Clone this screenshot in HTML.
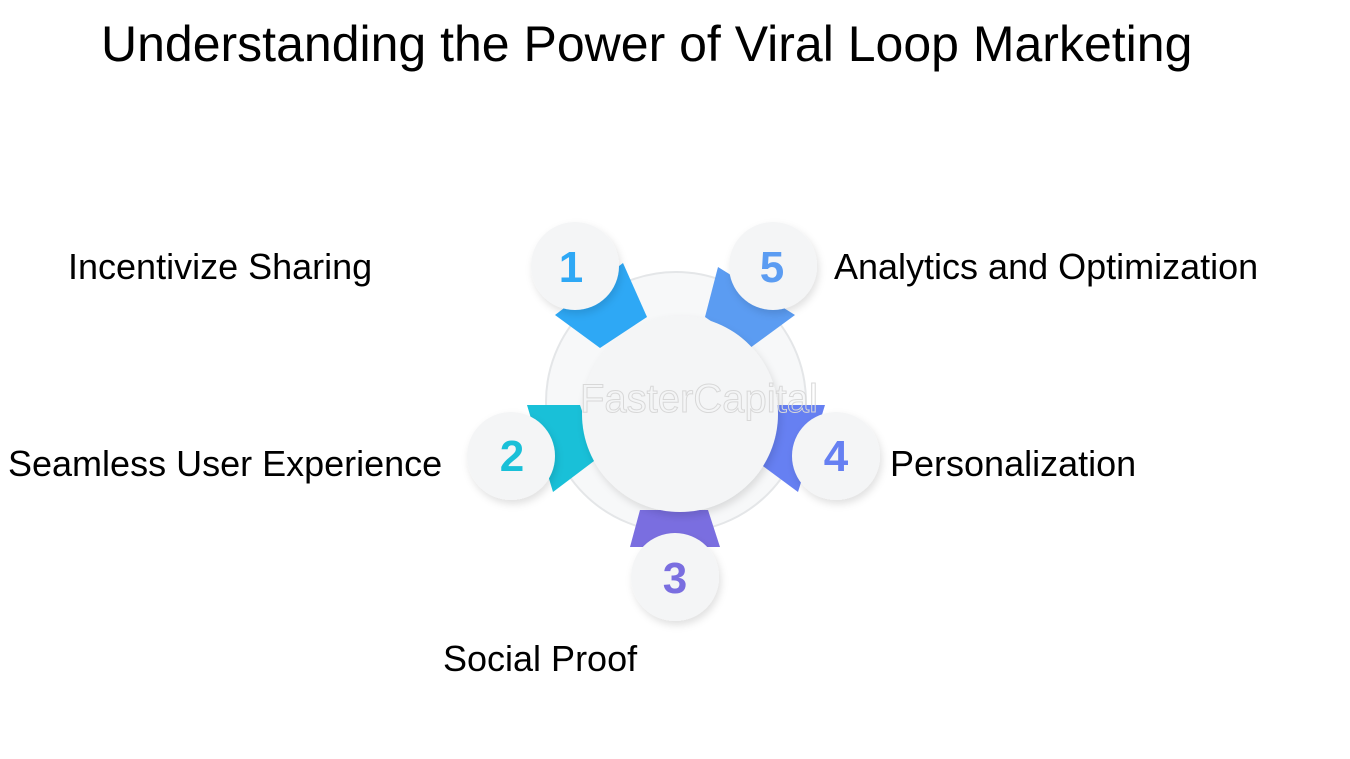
<!DOCTYPE html>
<html><head><style>
body{margin:0;width:1350px;height:759px;background:#fff;overflow:hidden;font-family:"Liberation Sans",sans-serif;}
.t{position:absolute;color:#000;white-space:nowrap;}
</style></head><body>
<div class="t" style="left:101px;top:15px;font-size:50px;">Understanding the Power of Viral Loop Marketing</div>
<div class="t" style="left:68px;top:246px;font-size:36px;">Incentivize Sharing</div>
<div class="t" style="left:834px;top:246px;font-size:36px;">Analytics and Optimization</div>
<div class="t" style="left:8px;top:443px;font-size:36px;">Seamless User Experience</div>
<div class="t" style="left:890px;top:443px;font-size:36px;">Personalization</div>
<div class="t" style="left:443px;top:638px;font-size:36px;">Social Proof</div>
<svg width="1350" height="759" style="position:absolute;left:0;top:0">
<defs>
<filter id="sh" x="-30%" y="-30%" width="160%" height="160%"><feDropShadow dx="2" dy="4" stdDeviation="4" flood-color="#000" flood-opacity="0.12"/></filter>
</defs>
<circle cx="676" cy="402" r="130" fill="#f7f8f9" stroke="#e4e6e8" stroke-width="2"/>
<polygon points="623,263 647,317 600,348 555,315" fill="#2ea8f5"/>
<polygon points="718,267 795,315 750,348 705,317" fill="#5b9cf2"/>
<polygon points="527,405 580,405 598,458 553,492" fill="#19c0d8"/>
<polygon points="767,405 825,405 798,492 752,458" fill="#6680f2"/>
<polygon points="640,510 708,510 720,547 630,547" fill="#7a6ee0"/>
<circle cx="680" cy="414" r="98" fill="#f4f5f6" filter="url(#sh)"/>
<g filter="url(#sh)" fill="#f4f5f6">
<circle cx="575" cy="266" r="44"/>
<circle cx="773" cy="266" r="44"/>
<circle cx="511" cy="456" r="44"/>
<circle cx="836" cy="456" r="44"/>
<circle cx="675" cy="577" r="44"/>
</g>
<g font-family="Liberation Sans" font-weight="bold" font-size="44" text-anchor="middle">
<text x="571" y="282" fill="#2ea8f5">1</text>
<text x="772" y="282" fill="#5b9cf2">5</text>
<text x="512" y="471" fill="#19c0d8">2</text>
<text x="836" y="471" fill="#6680f2">4</text>
<text x="675" y="593" fill="#7a6ee0">3</text>
</g>
<text x="580" y="412" font-family="Liberation Sans" font-size="40" fill="none" stroke="#d8d8d8" stroke-width="1">FasterCapital</text>
</svg>
</body></html>
